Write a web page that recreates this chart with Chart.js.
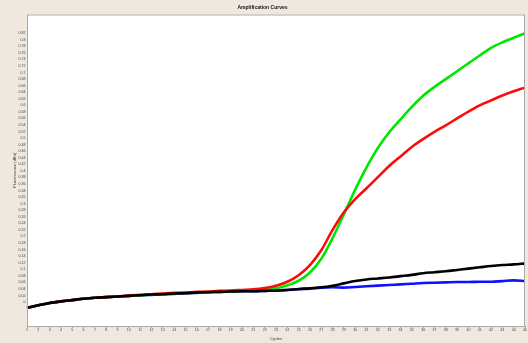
<!DOCTYPE html>
<html lang="en">
<head>
    <meta charset="UTF-8">
    <title>Amplification Curves</title>
    <script src="https://cdn.jsdelivr.net/npm/chart.js"></script>
    <style>
        html, body {
            margin: 0;
            padding: 0;
            background-color: #eee8de;
        }
        #wrap {
            width: 528px;
            height: 343px;
        }
    </style>
</head>
<body>
    <div id="wrap">
        <canvas id="ampChart" width="528" height="343"></canvas>
    </div>

    <script>
        // cycles 1..45
        const cycles = [1, 2, 3, 4, 5, 6, 7, 8, 9, 10, 11, 12, 13, 14, 15, 16, 17, 18, 19, 20,
            21, 22, 23, 24, 25, 26, 27, 28, 29, 30, 31, 32, 33, 34, 35, 36, 37, 38, 39, 40,
            41, 42, 43, 44, 45];

        // fluorescence readings per well
        const blackWell = [-0.018, -0.010, -0.003, 0.002, 0.006, 0.010, 0.013, 0.015, 0.017, 0.019,
            0.021, 0.023, 0.024, 0.026, 0.027, 0.029, 0.030, 0.031, 0.032, 0.033,
            0.033, 0.034, 0.035, 0.037, 0.040, 0.042, 0.045, 0.050, 0.057, 0.064,
            0.069, 0.072, 0.075, 0.079, 0.083, 0.088, 0.091, 0.094, 0.098, 0.102,
            0.106, 0.110, 0.113, 0.115, 0.118];
        const blueWell = [-0.018, -0.010, -0.003, 0.002, 0.006, 0.010, 0.013, 0.015, 0.017, 0.019,
            0.021, 0.022, 0.024, 0.025, 0.027, 0.028, 0.030, 0.031, 0.032, 0.033,
            0.033, 0.034, 0.035, 0.037, 0.039, 0.041, 0.044, 0.045, 0.044, 0.046,
            0.048, 0.050, 0.052, 0.054, 0.056, 0.058, 0.059, 0.060, 0.061, 0.061,
            0.062, 0.062, 0.064, 0.066, 0.064];
        const redWell = [-0.018, -0.010, -0.003, 0.002, 0.006, 0.010, 0.013, 0.015, 0.017, 0.020,
            0.022, 0.024, 0.026, 0.028, 0.029, 0.031, 0.032, 0.034, 0.035, 0.037,
            0.039, 0.043, 0.050, 0.062, 0.082, 0.113, 0.158, 0.220, 0.274, 0.314,
            0.347, 0.381, 0.415, 0.444, 0.473, 0.497, 0.519, 0.539, 0.560, 0.581,
            0.600, 0.615, 0.630, 0.643, 0.654];
        const greenWell = [-0.018, -0.010, -0.003, 0.002, 0.006, 0.010, 0.013, 0.015, 0.017, 0.019,
            0.021, 0.023, 0.025, 0.027, 0.028, 0.030, 0.031, 0.032, 0.033, 0.034,
            0.036, 0.038, 0.042, 0.051, 0.065, 0.090, 0.132, 0.195, 0.268, 0.343,
            0.411, 0.470, 0.518, 0.557, 0.595, 0.629, 0.656, 0.680, 0.704, 0.728,
            0.752, 0.775, 0.792, 0.806, 0.820];

        // y tick labels 0 .. 0.82
        const yTicks = [];
        for (let i = 0; i <= 41; i++) yTicks.push(Number((i * 0.02).toFixed(2)));

        // white plot area + grey frame
        const plotFrame = {
            id: 'plotFrame',
            beforeDatasetsDraw(chart) {
                const a = chart.chartArea, ctx = chart.ctx;
                ctx.save();
                ctx.fillStyle = '#ffffff';
                ctx.fillRect(a.left, a.top, a.right - a.left, a.bottom - a.top);
                ctx.restore();
            },
            afterDraw(chart) {
                const a = chart.chartArea, ctx = chart.ctx;
                ctx.save();
                ctx.strokeStyle = '#a9a9a9';
                ctx.lineWidth = 1;
                ctx.strokeRect(a.left + 0.5, a.top + 0.5, a.right - a.left - 1, a.bottom - a.top);
                ctx.restore();
            }
        };

        const ctx = document.getElementById('ampChart').getContext('2d');
        const tickFont = { family: 'Liberation Sans', size: 3.6 };

        new Chart(ctx, {
            type: 'line',
            data: {
                labels: cycles,
                datasets: [
                    { label: 'Well 1', data: blackWell, borderColor: '#000000' },
                    { label: 'Well 2', data: redWell, borderColor: '#ff0a0a' },
                    { label: 'Well 3', data: greenWell, borderColor: '#00e600' },
                    { label: 'Well 4', data: blueWell, borderColor: '#1010ff' }
                ]
            },
            options: {
                responsive: false,
                animation: false,
                layout: { padding: { left: 0, right: 3, top: 0, bottom: 0 }, autoPadding: false },
                elements: {
                    line: { borderWidth: 2.6, tension: 0.4, cubicInterpolationMode: 'monotone', fill: false },
                    point: { radius: 0 }
                },
                plugins: {
                    legend: { display: false },
                    tooltip: { enabled: false },
                    title: {
                        display: true,
                        text: 'Amplification Curves',
                        color: '#111',
                        font: { family: 'Liberation Sans', size: 5, weight: 'bold' },
                        padding: { top: 5, bottom: 3.5 }
                    }
                },
                scales: {
                    x: {
                        type: 'category',
                        offset: false,
                        afterFit(scale) { scale.height = 17; },
                        grid: { display: true, drawOnChartArea: false, drawTicks: true, tickLength: 2, color: '#a9a9a9' },
                        border: { display: false },
                        ticks: { autoSkip: false, maxRotation: 0, padding: 0, color: '#444', font: tickFont },
                        title: {
                            display: true,
                            text: 'Cycles',
                            color: '#333',
                            font: { family: 'Liberation Sans', size: 4 },
                            padding: { top: 0, bottom: 2 }
                        }
                    },
                    y: {
                        min: -0.073,
                        max: 0.877,
                        afterFit(scale) { scale.width = 27; },
                        afterBuildTicks(scale) {
                            scale.ticks = yTicks.map(v => ({ value: v }));
                        },
                        grid: { display: false, drawTicks: false },
                        border: { display: false },
                        ticks: {
                            autoSkip: false,
                            padding: 1.5,
                            color: '#444',
                            font: tickFont,
                            callback: v => String(Number(Number(v).toFixed(2)))
                        },
                        title: {
                            display: true,
                            text: 'Fluorescence (dRn)',
                            color: '#333',
                            font: { family: 'Liberation Sans', size: 4 },
                            padding: { top: 12, bottom: 0 }
                        }
                    }
                }
            },
            plugins: [plotFrame]
        });
    </script>
</body>
</html>
